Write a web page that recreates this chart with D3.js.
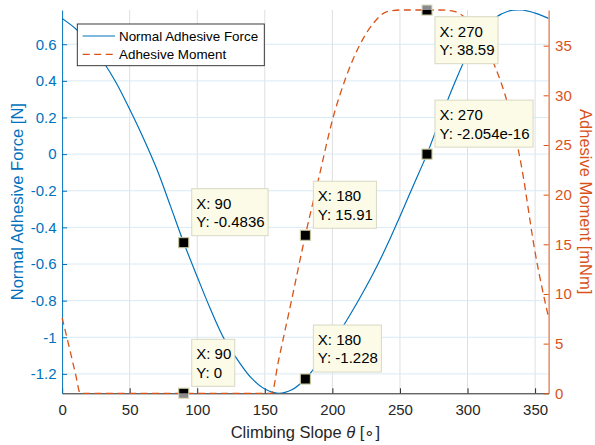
<!DOCTYPE html>
<html><head><meta charset="utf-8">
<script src="https://cdn.jsdelivr.net/npm/d3@7"></script>
<style>
body{margin:0;background:#fff}
svg{display:block}
text{font-family:"Liberation Sans",Arial,Helvetica,sans-serif}
</style>
</head><body><svg id="c" width="595" height="445"></svg>
<script>
// ---- data ----
const forceAngles = [0,10,20,30,40,50,60,70,80,90,100,110,120,130,140,150,160,170,180,190,200,210,220,230,240,250,260,270,280,290,300,310,320,330,340,350,360];
const forceValues = [0.741,0.685,0.612,0.51,0.39,0.245,0.09,-0.08,-0.28,-0.4836,-0.67,-0.85,-1.01,-1.125,-1.222,-1.283,-1.306,-1.287,-1.228,-1.135,-1.03,-0.915,-0.79,-0.655,-0.505,-0.34,-0.17,0,0.195,0.38,0.545,0.665,0.742,0.78,0.787,0.77,0.741];
const momentAngles = [0,5,10,13.5,50,90,120,155,160,170,180,190,200,210,220,230,240,250,260,270,280,290,300,310,320,330,340,350,360];
const momentValues = [7.6,4.8,1.9,0,0,0,0,0,3.2,9.5,15.91,21.7,27.5,31.8,35.0,37.2,38.4,38.59,38.59,38.59,38.59,38.45,37.6,35.8,33.0,29.0,22.8,14.2,7.6];
const xTicks = [0,50,100,150,200,250,300,350];
const forceTicks = [-1.2,-1,-0.8,-0.6,-0.4,-0.2,0,0.2,0.4,0.6];
const momentTicks = [0,5,10,15,20,25,30,35];
const seriesNames = ["Normal Adhesive Force","Adhesive Moment"];
const tipAngles = [90,90,180,180,270,270];
const tipValues = [-0.4836,0,15.91,-1.228,38.59,-2.054e-16];
const tipSeries = [0,1,1,0,1,0];
const tipXText = ["90","90","180","180","270","270"];
const tipYText = ["-0.4836","0","15.91","-1.228","38.59","-2.054e-16"];
const tipBelow = [false,false,false,false,true,false];

const BLUE = "#0072BD", ORANGE = "#D95319", DARK = "#262626";
const svg = d3.select("#c");
const L = 62.1, R = 548.6, T = 10, B = 393.3;
const x = d3.scaleLinear().domain([0,360]).range([L,R]);
const yL = d3.scaleLinear().domain([-1.306,0.787]).range([B,T]);
const yR = d3.scaleLinear().domain([0,38.59]).range([B,T]);

svg.append("defs").append("clipPath").attr("id","plot")
  .append("rect").attr("x",L).attr("y",T).attr("width",R-L).attr("height",B-T);

// grid
const grid = svg.append("g");
grid.selectAll("line.v").data(xTicks.filter(d=>d>0)).enter().append("line")
  .attr("x1",d=>x(d)).attr("x2",d=>x(d)).attr("y1",T).attr("y2",B)
  .attr("stroke","#dfdfdf").attr("stroke-width",1);
grid.selectAll("line.h").data(forceTicks).enter().append("line")
  .attr("x1",L).attr("x2",R).attr("y1",d=>yL(d)).attr("y2",d=>yL(d))
  .attr("stroke","#d9eaf5").attr("stroke-width",1);

// axes
const fmtL = d => String(+d.toFixed(1));
const ax = svg.append("g").attr("transform",`translate(0,${B})`)
  .call(d3.axisBottom(x).tickValues(xTicks).tickSizeInner(-5).tickSizeOuter(0).tickPadding(11).tickFormat(d=>String(d)));
ax.selectAll("text").attr("fill",DARK).style("font-size","15px");
ax.selectAll("line,path").attr("stroke",DARK);

const al = svg.append("g").attr("transform",`translate(${L},0)`)
  .call(d3.axisLeft(yL).tickValues(forceTicks).tickSizeInner(-5).tickSizeOuter(0).tickPadding(5.5).tickFormat(fmtL));
al.selectAll("text").attr("fill",BLUE).style("font-size","15px");
al.selectAll("line,path").attr("stroke",BLUE);

const ar = svg.append("g").attr("transform",`translate(${R},0)`)
  .call(d3.axisRight(yR).tickValues(momentTicks).tickSizeInner(-5).tickSizeOuter(0).tickPadding(6.5).tickFormat(d=>String(d)));
ar.selectAll("text").attr("fill",ORANGE).style("font-size","15px");
ar.selectAll("line,path").attr("stroke",ORANGE);

// lines
const plot = svg.append("g").attr("clip-path","url(#plot)");
const forcePts = forceAngles.map((a,i)=>[a,forceValues[i]]);
const momentPts = momentAngles.map((a,i)=>[a,momentValues[i]]);
plot.append("path").datum(forcePts)
  .attr("d", d3.line().x(d=>x(d[0])).y(d=>yL(d[1])).curve(d3.curveCatmullRom.alpha(0.5)))
  .attr("fill","none").attr("stroke",BLUE).attr("stroke-width",1.2);
svg.append("path").datum(momentPts)
  .attr("d", d3.line().x(d=>x(d[0])).y(d=>yR(d[1])).curve(d3.curveMonotoneX))
  .attr("fill","none").attr("stroke",ORANGE).attr("stroke-width",1.3)
  .attr("stroke-dasharray","7,4.5");

// axis labels
svg.append("text").attr("x",(L+R)/2).attr("y",438.3).attr("text-anchor","middle")
  .attr("fill",DARK).style("font-size","16.5px")
  .call(t=>{t.append("tspan").text("Climbing Slope  ");
            t.append("tspan").attr("font-style","italic").text("θ");
            t.append("tspan").text(" [∘]");});
svg.append("text").attr("transform",`translate(23.3,${(T+B)/2}) rotate(-90)`)
  .attr("text-anchor","middle").attr("fill",BLUE).style("font-size","16.5px")
  .text("Normal Adhesive Force [N]");
svg.append("text").attr("transform",`translate(580,${(T+B)/2}) rotate(90)`)
  .attr("text-anchor","middle").attr("fill",ORANGE).style("font-size","16.5px")
  .text("Adhesive Moment [mNm]");

// legend
const lg = svg.append("g");
lg.append("rect").attr("x",77.3).attr("y",24).attr("width",187).attr("height",41.7)
  .attr("fill","#fff").attr("stroke",DARK).attr("stroke-width",0.9);
[BLUE,ORANGE].forEach((c,i)=>{
  const yy = 36 + i*18.3;
  lg.append("line").attr("x1",82.7).attr("x2",115).attr("y1",yy).attr("y2",yy)
    .attr("stroke",c).attr("stroke-width",i?1.3:1.2).attr("stroke-dasharray",i?"7,4.5":null);
  lg.append("text").attr("x",119).attr("y",yy+4.8).style("font-size","13.4px").attr("fill","#000")
    .text(seriesNames[i]);
});

// datatips
const tips = svg.append("g");
const mk = svg.append("g");
tipAngles.forEach((a,i)=>{
  const mx = x(a), my = tipSeries[i] ? yR(tipValues[i]) : yL(tipValues[i]);
  mk.append("rect").attr("x",mx-5).attr("y",my-5).attr("width",10).attr("height",10)
    .attr("fill","#8a8a8a").attr("stroke","#dcdcc4").attr("stroke-width",1);
  mk.append("rect").attr("x",mx-5).attr("y",my-5).attr("width",10).attr("height",10)
    .attr("fill","#000").attr("stroke","#cfcfa8").attr("stroke-width",1)
    .attr("clip-path","url(#plot)");
  const g = tips.append("g");
  const bx = mx + 8, h = 47;
  const by = tipBelow[i] ? my + 6.7 : my - 7 - h;
  const r = g.append("rect");
  const t1 = g.append("text").attr("x",bx+4.5).attr("y",by+20).style("font-size","15px").attr("fill","#000").text("X: "+tipXText[i]);
  const t2 = g.append("text").attr("x",bx+4.5).attr("y",by+38.4).style("font-size","15px").attr("fill","#000").text("Y: "+tipYText[i]);
  const w = Math.max(t1.node().getComputedTextLength(), t2.node().getComputedTextLength()) + 8;
  r.attr("x",bx).attr("y",by).attr("width",w).attr("height",h)
    .attr("fill","#fbfbe8").attr("stroke","#d8d8c4").attr("stroke-width",1);
});
</script>
</body></html>
